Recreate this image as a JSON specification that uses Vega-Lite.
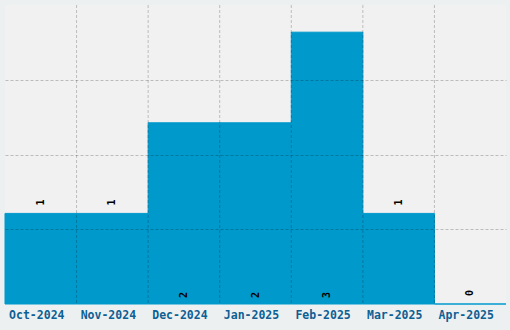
{
  "$schema": "https://vega.github.io/schema/vega-lite/v6.json",
  "width": 501,
  "height": 299,
  "autosize": {"type": "none"},
  "padding": {"left": 5, "top": 5, "right": 4, "bottom": 26},
  "background": "#edf0f1",
  "config": {"view": {"fill": "#f1f1f1", "stroke": null}},
  "data": {"values": [
    {"month": "Oct-2024", "count": 1},
    {"month": "Nov-2024", "count": 1},
    {"month": "Dec-2024", "count": 2},
    {"month": "Jan-2025", "count": 2},
    {"month": "Feb-2025", "count": 3},
    {"month": "Mar-2025", "count": 1},
    {"month": "Apr-2025", "count": 0}
  ]},
  "encoding": {
    "x": {"field": "month", "type": "nominal", "sort": null,
      "scale": {"paddingInner": 0, "paddingOuter": 0},
      "axis": {"title": null, "ticks": false, "domain": false, "grid": false, "labelAngle": 0,
        "labelFont": "DejaVu Sans Mono", "labelFontWeight": "bold", "labelFontSize": 11.5,
        "labelColor": "#0e5f94", "labelPadding": 5, "labelOffset": -4}}
  },
  "layer": [
    {
      "mark": {"type": "bar", "color": "#0099cc", "stroke": "#0099cc", "strokeWidth": 1},
      "encoding": {
        "y": {"field": "count", "type": "quantitative",
          "scale": {"domain": [0, 3.3], "nice": false, "zero": true},
          "axis": {"title": null, "labels": false, "ticks": false, "domain": false,
            "values": [0.825, 1.65, 2.475], "grid": true, "gridColor": "#000", "gridOpacity": 0.22,
            "gridDash": [3, 2], "zindex": 1}}
      }
    },
    {
      "transform": [{"filter": "datum.month != 'Oct-2024'"}],
      "mark": {"type": "rule", "color": "#000", "opacity": 0.22, "strokeDash": [3, 2]},
      "encoding": {
        "x": {"field": "month", "type": "nominal", "sort": null, "bandPosition": 0}
      }
    },
    {
      "transform": [{"filter": "datum.count < 2"}],
      "mark": {"type": "text", "angle": 270, "align": "center", "baseline": "middle",
        "font": "DejaVu Sans Mono", "fontWeight": "bold", "fontSize": 10, "color": "#000", "yOffset": -11},
      "encoding": {
        "y": {"field": "count", "type": "quantitative"},
        "text": {"field": "count", "type": "quantitative"}
      }
    },
    {
      "transform": [{"filter": "datum.count >= 2"}],
      "mark": {"type": "text", "angle": 270, "align": "center", "baseline": "middle",
        "font": "DejaVu Sans Mono", "fontWeight": "bold", "fontSize": 10, "color": "#000", "yOffset": -9},
      "encoding": {
        "y": {"datum": 0, "type": "quantitative"},
        "text": {"field": "count", "type": "quantitative"}
      }
    }
  ]
}
